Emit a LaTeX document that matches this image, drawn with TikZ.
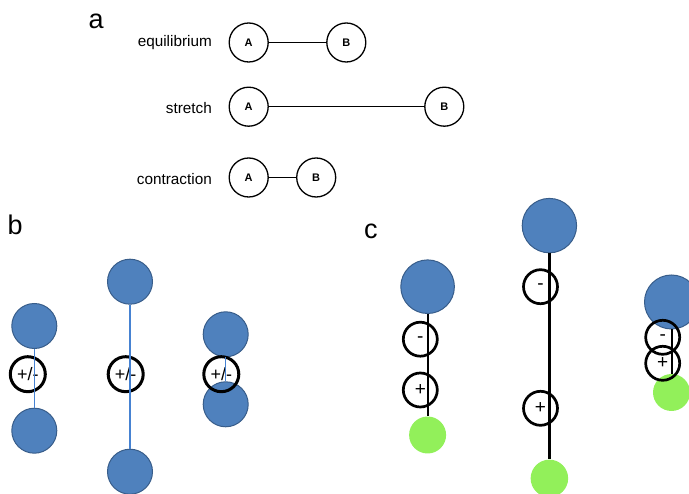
\documentclass[tikz,border=0pt]{standalone}
\usepackage{fontspec}
\setmainfont{Liberation Sans}
\definecolor{dotblue}{RGB}{79,129,189}
\definecolor{dotblueedge}{RGB}{56,93,138}
\definecolor{linkblue}{RGB}{70,130,210}
\definecolor{dotgreen}{RGB}{146,240,90}
\tikzset{
  atom/.style={circle,draw,line width=1.3pt,minimum size=39pt,inner sep=0pt,fill=white,
    font=\fontsize{11}{11}\selectfont\bfseries},
  statelabel/.style={anchor=base east,inner sep=0pt,font=\fontsize{15.3}{16}\selectfont},
  panellabel/.style={anchor=base west,inner sep=0pt,font=\fontsize{27}{28}\selectfont},
  bluedot/.style={circle,fill=dotblue,draw=dotblueedge,line width=1pt,minimum size=#1,inner sep=0pt},
  greendot/.style={circle,fill=dotgreen,minimum size=#1,inner sep=0pt},
  pmring/.style={circle,draw,line width=3pt,minimum size=35pt,inner sep=0pt,
    font=\fontsize{18}{18}\selectfont},
  sgring/.style={circle,draw,line width=2.7pt,minimum size=34pt,inner sep=0pt,
    font=\fontsize{19}{19}\selectfont},
  bluelink/.style={draw=linkblue,line width=1.3pt},
  blacklink/.style={draw=black,line width=2.2pt},
  thinlink/.style={draw=black,line width=1.3pt}
}
\begin{document}
\begin{tikzpicture}[x=1pt,y=-1pt]
\useasboundingbox (0,0) rectangle (689,494);
% ---- panel a ----
\node[panellabel] (la) at (88.3,29) {a};
\node[statelabel] (te) at (212,46.5) {equilibrium};
\node[statelabel] (ts) at (212,113.3) {stretch};
\node[statelabel] (tc) at (212,184.3) {contraction};
\node[atom] (eA) at (248.7,42.5) {A};
\node[atom] (eB) at (346.3,42.5) {B};
\node[atom] (sA) at (248.7,106.7) {A};
\node[atom] (sB) at (444.3,106.7) {B};
\node[atom] (cA) at (248.7,177.5) {A};
\node[atom] (cB) at (316.2,177.5) {B};
\draw[thinlink] (eA) -- (eB);
\draw[thinlink] (sA) -- (sB);
\draw[thinlink] (cA) -- (cB);
% ---- panel b ----
\node[panellabel] (lb) at (7.5,234.3) {b};
\node[bluedot=45pt] (b1t) at (34.3,326) {};
\node[bluedot=45pt] (b1b) at (34.3,430.7) {};
\node[bluedot=45pt] (b2t) at (130,281.7) {};
\node[bluedot=45pt] (b2b) at (130,471.7) {};
\node[bluedot=45pt] (b3t) at (225.7,334.3) {};
\node[bluedot=45pt] (b3b) at (225.7,404.3) {};
\node[pmring] (r1) at (27.8,374.2) {+/-};
\node[pmring] (r2) at (125.7,374.2) {+/-};
\node[pmring] (r3) at (221.3,374.2) {+/-};
\draw[bluelink] (b1t.south) -- (b1b.north);
\draw[bluelink] (b2t.south) -- (b2b.north);
\draw[bluelink] (b3t.south) -- (b3b.north);
% ---- panel c ----
\node[panellabel] (lc) at (364,238.3) {c};
\node[bluedot=53.6pt] (c1t) at (427.6,286.7) {};
\node[greendot=37pt] (c1g) at (427.6,435) {};
\node[bluedot=54.4pt] (c2t) at (549.4,225.6) {};
\node[greendot=37.5pt] (c2g) at (549.4,478.4) {};
\node[bluedot=54pt] (c3t) at (671.5,302) {};
\node[greendot=37pt] (c3g) at (671.5,392.5) {};
\node[sgring] (m1) at (420.3,339.2) {-};
\node[sgring] (p1) at (420.3,390) {+};
\node[sgring] (m2) at (540.5,286.7) {-};
\node[sgring] (p2) at (540.5,408.3) {+};
\node[sgring] (m3) at (662.7,337.3) {-};
\node[sgring] (p3) at (662.7,363.3) {+};
\draw[blacklink] (c1t.south) -- (c1g.north);
\draw[blacklink] (c2t.south) -- (c2g.north);
\draw[blacklink] ([xshift=0.8pt]c3t.south) -- ([xshift=0.8pt]c3g.north);
\end{tikzpicture}
\end{document}
